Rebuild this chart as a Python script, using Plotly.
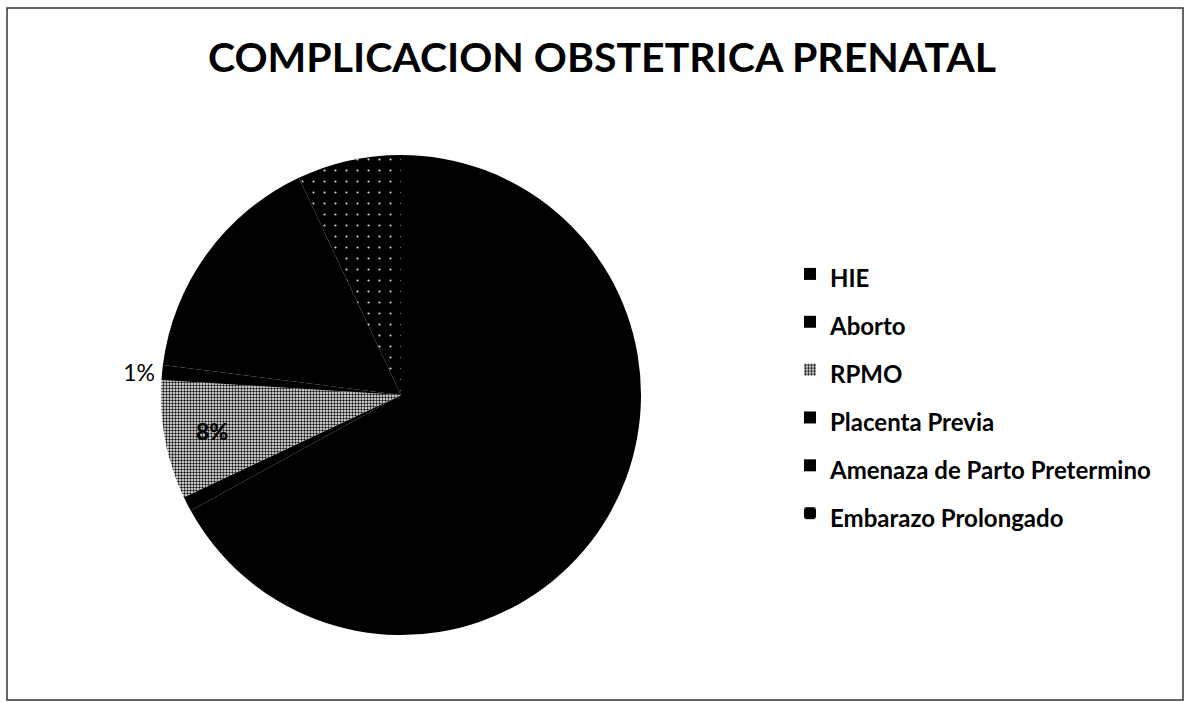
import plotly.graph_objects as go

labels = ["HIE", "Aborto", "RPMO", "Placenta Previa",
          "Amenaza de Parto Pretermino", "Embarazo Prolongado"]
values = [67, 1, 8, 1, 16, 7]
shown = ["", "", "%{percent:.0%}", "%{percent:.0%}", "", ""]

W, H = 1185, 702

legend_labels = ["<span style='font-size:24px'>%s</span>" % l for l in labels]
bold = "Lato Heavy, Lato Black, Lato"

fig = go.Figure(go.Pie(
    labels=legend_labels,
    values=values,
    sort=False,
    direction="clockwise",
    rotation=0,
    texttemplate=shown,
    textposition=["inside", "inside", "inside", "outside", "inside", "inside"],
    insidetextorientation="horizontal",
    textfont=dict(family=[bold, bold, bold, "Lato", bold, bold],
                  size=23, color="black"),
    marker=dict(
        colors=["black", "black", "white", "black", "black", "black"],
        line=dict(width=0),
        pattern=dict(
            shape=["", "", ".", "", "", "."],
            fgcolor=["black", "black", "#111", "black", "black", "#ddd"],
            bgcolor=["black", "black", "white", "black", "black", "black"],
            size=[8, 8, 3, 8, 8, 11],
            solidity=[0.3, 0.3, 0.5, 0.3, 0.3, 0.03],
        ),
    ),
    hoverinfo="label+percent",
    domain=dict(x=[161 / W, 641 / W], y=[(H - 635) / H, (H - 155) / H]),
))

fig.update_layout(
    width=W, height=H,
    margin=dict(l=0, r=0, t=0, b=0),
    paper_bgcolor="white",
    plot_bgcolor="white",
    font=dict(family="Lato", color="black"),
    showlegend=True,
    legend=dict(
        x=790 / W, y=1 - 245 / H, xanchor="left", yanchor="top",
        font=dict(family="Lato", size=34.5, color="black", weight=700),
        bgcolor="rgba(0,0,0,0)",
    ),
    annotations=[dict(
        text="<b>COMPLICACION OBSTETRICA PRENATAL</b>",
        x=602 / W, y=1 - 56 / H, xref="paper", yref="paper",
        xanchor="center", yanchor="middle", showarrow=False,
        font=dict(family="Lato", size=41, color="black"),
    )],
    shapes=[dict(
        type="rect", xref="paper", yref="paper",
        x0=7 / W, x1=1183 / W, y0=1 - 700 / H, y1=1 - 8 / H,
        line=dict(color="#333", width=1.5),
    )],
)

fig.write_html("out.html", config={"displayModeBar": False},
               post_script="document.body.style.margin='0';")
